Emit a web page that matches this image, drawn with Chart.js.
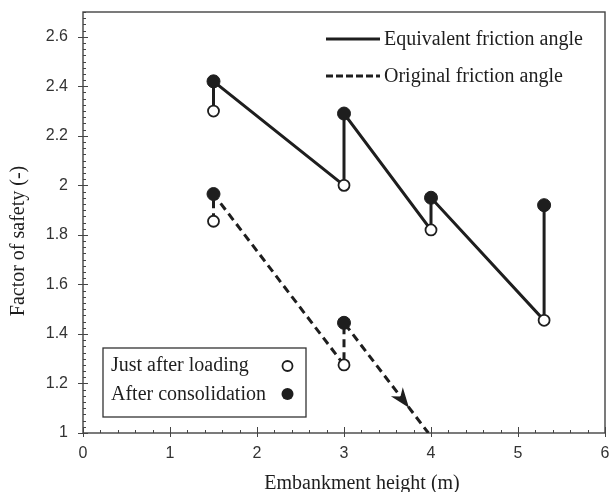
<!DOCTYPE html>
<html>
<head>
<meta charset="utf-8">
<script src="https://cdn.jsdelivr.net/npm/chart.js@4"></script>
<style>
html, body { margin: 0; padding: 0; background: #fff; }
#wrap { width: 614px; height: 492px; }
</style>
</head>
<body>
<div id="wrap"><canvas id="canvas"></canvas></div>
<script>
// Dữ liệu
const heights = [1.5, 3, 4, 5.3];
const eqJustAfter = [2.30, 2.00, 1.82, 1.455];
const eqAfterCons = [2.42, 2.29, 1.95, 1.92];
const origHeights = [1.5, 3];
const origJustAfter = [1.855, 1.275];
const origAfterCons = [1.965, 1.445];
const origFailPoint = [3.97, 1.0]; // cuối đường nét đứt (mũi tên)
const xTickValues = [0, 1, 2, 3, 4, 5, 6];
const yTickValues = [1, 1.2, 1.4, 1.6, 1.8, 2, 2.2, 2.4, 2.6];
const xTitle = 'Embankment height (m)';
const yTitle = 'Factor of safety (-)';

const SERIF = '"Liberation Serif", "Times New Roman", serif';
const SANS = '"Liberation Sans", Arial, sans-serif';
const INK = '#1e1e1e';

// Đường răng cưa: ngay sau khi đắp -> sau cố kết
function sawPath(xs, before, after) {
    const pts = [];
    xs.forEach((h, i) => {
        pts.push({ x: h, y: before[i] });
        pts.push({ x: h, y: after[i] });
    });
    return pts;
}

const eqPath = sawPath(heights, eqJustAfter, eqAfterCons);
const origPath = sawPath(origHeights, origJustAfter, origAfterCons);
origPath.push({ x: origFailPoint[0], y: origFailPoint[1] });

const openPts = heights.map((h, i) => ({ x: h, y: eqJustAfter[i] }))
    .concat(origHeights.map((h, i) => ({ x: h, y: origJustAfter[i] })));
const filledPts = heights.map((h, i) => ({ x: h, y: eqAfterCons[i] }))
    .concat(origHeights.map((h, i) => ({ x: h, y: origAfterCons[i] })));

// Plugin vẽ khung, vạch chia, mũi tên và chú thích
const decorPlugin = {
    id: 'decor',
    beforeDatasetsDraw(chart) {
        const { ctx, chartArea: a, scales: { x, y } } = chart;
        ctx.save();
        ctx.strokeStyle = '#444';
        ctx.lineWidth = 1.4;
        ctx.strokeRect(a.left, a.top, a.right - a.left, a.bottom - a.top);

        ctx.lineWidth = 1;
        ctx.beginPath();
        // vạch trục x
        for (let i = 0; i <= 30; i++) {
            const px = Math.round(x.getPixelForValue(i * 0.2)) + 0.5;
            if (i % 5 === 0) {
                ctx.moveTo(px, a.bottom - 6);
                ctx.lineTo(px, a.bottom + 4);
            } else {
                ctx.moveTo(px, a.bottom - 3);
                ctx.lineTo(px, a.bottom);
            }
        }
        // vạch trục y
        for (let i = 0; i <= 68; i++) {
            const py = Math.round(y.getPixelForValue(1 + i * 0.025)) + 0.5;
            if (i % 8 === 0) {
                ctx.moveTo(a.left - 5, py);
                ctx.lineTo(a.left + 5, py);
            } else {
                ctx.moveTo(a.left, py);
                ctx.lineTo(a.left + 3, py);
            }
        }
        ctx.stroke();
        ctx.restore();
    },
    afterDatasetsDraw(chart) {
        const { ctx, scales: { x, y } } = chart;
        // mũi tên trên đường nét đứt
        const n = origHeights.length - 1;
        const x0 = x.getPixelForValue(origHeights[n]), y0 = y.getPixelForValue(origAfterCons[n]);
        const x1 = x.getPixelForValue(origFailPoint[0]), y1 = y.getPixelForValue(origFailPoint[1]);
        const ang = Math.atan2(y1 - y0, x1 - x0);
        const tx = x0 + (x1 - x0) * 0.77, ty = y0 + (y1 - y0) * 0.77;
        const len = 20, half = 7.5;
        ctx.save();
        ctx.fillStyle = INK;
        ctx.beginPath();
        ctx.moveTo(tx, ty);
        ctx.lineTo(tx - len * Math.cos(ang) + half * Math.sin(ang), ty - len * Math.sin(ang) - half * Math.cos(ang));
        ctx.lineTo(tx - len * 0.7 * Math.cos(ang), ty - len * 0.7 * Math.sin(ang));
        ctx.lineTo(tx - len * Math.cos(ang) - half * Math.sin(ang), ty - len * Math.sin(ang) + half * Math.cos(ang));
        ctx.closePath();
        ctx.fill();
        ctx.restore();
    },
    afterDraw(chart) {
        const ctx = chart.ctx;
        ctx.save();
        ctx.font = '20px ' + SERIF;
        ctx.fillStyle = INK;
        ctx.textBaseline = 'middle';

        // tiêu đề trục
        ctx.textAlign = 'center';
        ctx.fillText(xTitle, 362, 484);
        ctx.save();
        ctx.translate(19, 241);
        ctx.rotate(-Math.PI / 2);
        ctx.fillText(yTitle, 0, 0);
        ctx.restore();
        ctx.textAlign = 'left';

        // chú thích kiểu đường (góc trên phải)
        ctx.strokeStyle = INK;
        ctx.lineWidth = 2.8;
        ctx.beginPath();
        ctx.moveTo(326, 39);
        ctx.lineTo(380, 39);
        ctx.stroke();
        ctx.setLineDash([7, 3]);
        ctx.beginPath();
        ctx.moveTo(326, 76);
        ctx.lineTo(380, 76);
        ctx.stroke();
        ctx.setLineDash([]);
        ctx.fillText('Equivalent friction angle', 384, 40);
        ctx.fillText('Original friction angle', 384, 77);

        // chú thích ký hiệu (góc dưới trái)
        ctx.fillStyle = '#fff';
        ctx.fillRect(103, 348, 203, 69);
        ctx.strokeStyle = '#333';
        ctx.lineWidth = 1.3;
        ctx.strokeRect(103, 348, 203, 69);
        ctx.fillStyle = INK;
        ctx.fillText('Just after loading', 111, 366);
        ctx.fillText('After consolidation', 111, 395);
        ctx.lineWidth = 1.8;
        ctx.strokeStyle = INK;
        ctx.fillStyle = '#fff';
        ctx.beginPath();
        ctx.arc(287.5, 366, 5, 0, Math.PI * 2);
        ctx.fill();
        ctx.stroke();
        ctx.fillStyle = INK;
        ctx.beginPath();
        ctx.arc(287.5, 394, 6, 0, Math.PI * 2);
        ctx.fill();
        ctx.restore();
    }
};

function renderChart() {
    const ctx = document.getElementById('canvas').getContext('2d');
    new Chart(ctx, {
        type: 'scatter',
        data: {
            datasets: [
                {
                    label: 'After consolidation',
                    data: filledPts,
                    pointRadius: 6.5,
                    pointBackgroundColor: INK,
                    pointBorderColor: INK,
                    pointBorderWidth: 1,
                },
                {
                    label: 'Just after loading',
                    data: openPts,
                    pointRadius: 5.5,
                    pointBackgroundColor: '#fff',
                    pointBorderColor: INK,
                    pointBorderWidth: 1.8,
                },
                {
                    label: 'Equivalent friction angle',
                    data: eqPath,
                    showLine: true,
                    borderColor: INK,
                    borderWidth: 3,
                    pointRadius: 0,
                },
                {
                    label: 'Original friction angle',
                    data: origPath,
                    showLine: true,
                    borderColor: INK,
                    borderWidth: 3,
                    borderDash: [8, 5],
                    pointRadius: 0,
                }
            ]
        },
        options: {
            responsive: true,
            maintainAspectRatio: false,
            animation: false,
            events: [],
            layout: { padding: { top: 12, right: 9, left: 0, bottom: 0 } },
            plugins: {
                legend: { display: false },
                tooltip: { enabled: false },
            },
            scales: {
                x: {
                    type: 'linear',
                    min: 0,
                    max: 6,
                    afterFit: s => {
                        s.height = 59;
                        s.paddingLeft = 0;
                        s.paddingRight = 0;
                    },
                    afterBuildTicks: s => { s.ticks = xTickValues.map(v => ({ value: v })); },
                    grid: { display: false },
                    border: { display: false },
                    ticks: {
                        color: '#333',
                        font: { family: SANS, size: 16 },
                        padding: 3,
                        maxRotation: 0,
                        callback: v => String(v),
                    }
                },
                y: {
                    type: 'linear',
                    min: 1,
                    max: 2.7,
                    afterFit: s => {
                        s.width = 83;
                        s.paddingTop = 0;
                        s.paddingBottom = 0;
                    },
                    afterBuildTicks: s => { s.ticks = yTickValues.map(v => ({ value: v })); },
                    grid: { display: false },
                    border: { display: false },
                    ticks: {
                        color: '#333',
                        font: { family: SANS, size: 16 },
                        padding: 7,
                        callback: v => String(+v.toFixed(1)),
                    }
                }
            }
        },
        plugins: [decorPlugin]
    });
}

renderChart();
</script>
</body>
</html>
